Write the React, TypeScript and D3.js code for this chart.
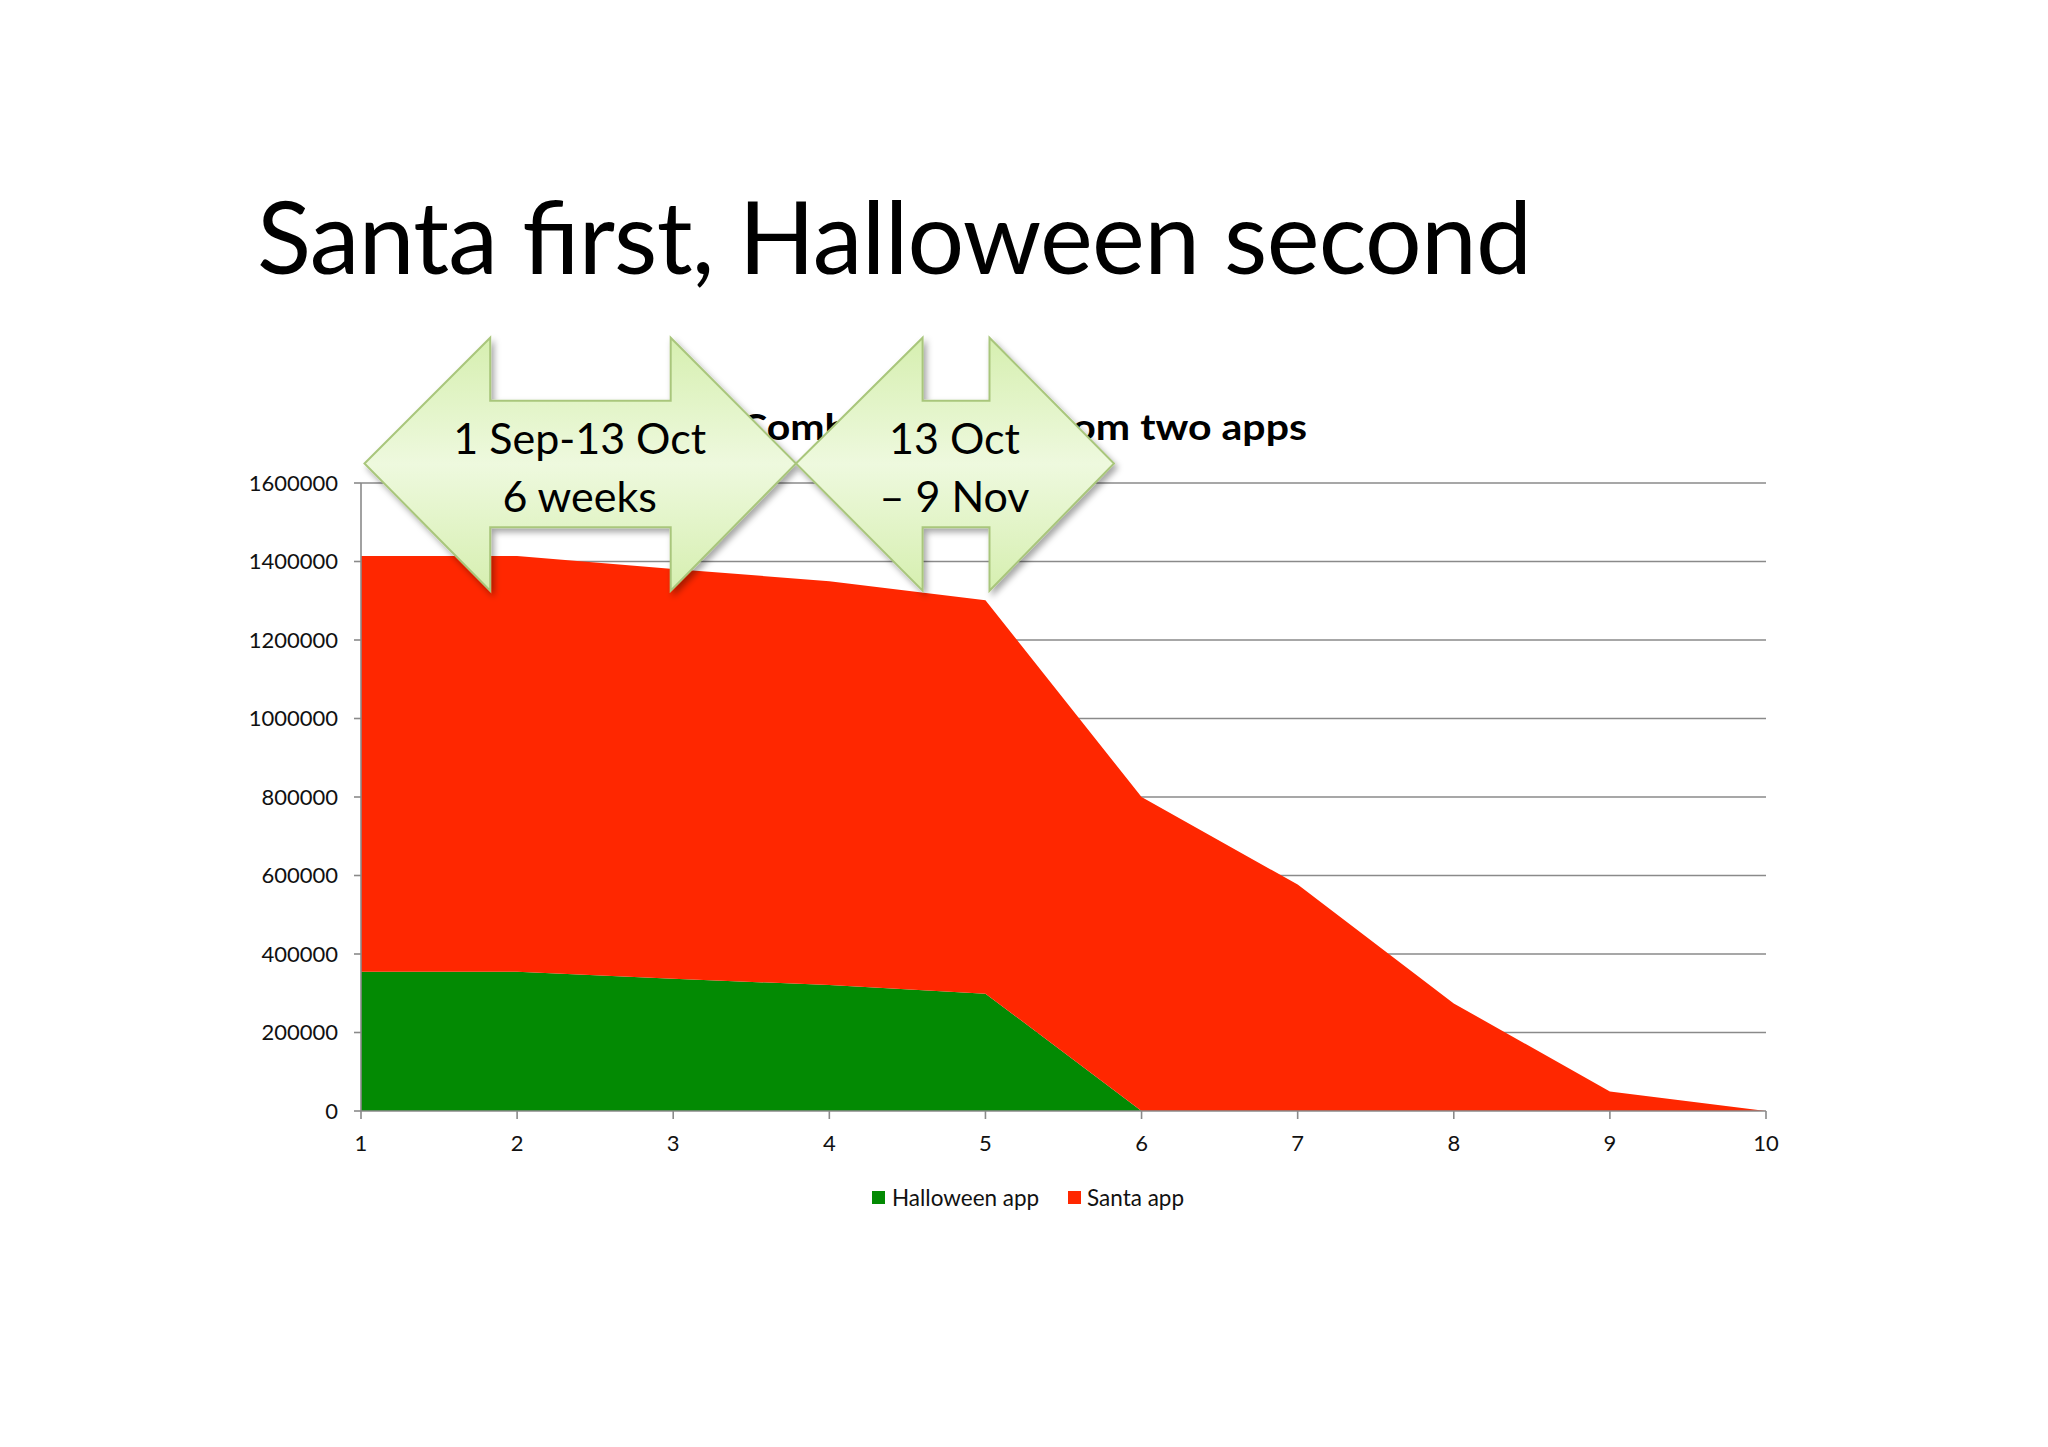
import React from 'react';
import * as d3 from 'd3';

// ---- data ----
const weeks = [1, 2, 3, 4, 5, 6, 7, 8, 9, 10];
const halloweenApp = [355000, 355000, 337000, 321000, 299000, 0, 0, 0, 0, 0];
const santaApp = [1059000, 1059000, 1044000, 1029000, 1002000, 800000, 577000, 274000, 50000, 0];
const seriesNames = ['Halloween app', 'Santa app'];
const seriesColors = ['#038a03', '#ff2700'];
const yTicks = [0, 200000, 400000, 600000, 800000, 1000000, 1200000, 1400000, 1600000];
const slideTitle = 'Santa first, Halloween second';
const chartTitle = 'Combined users from two apps';
const arrowLabels = [
  ['1 Sep-13 Oct', '6 weeks'],
  ['13 Oct', '\u2013 9 Nov'],
];

const FONT = 'Lato, "Open Sans", sans-serif';

export default function App() {
  const W = 2048;
  const H = 1447;
  const x = d3.scaleLinear().domain([1, 10]).range([361, 1766]);
  const y = d3.scaleLinear().domain([0, 1600000]).range([1111, 483]);

  const rows = weeks.map((w, i) => ({ week: w, h: halloweenApp[i], s: santaApp[i] }));
  const stack = d3.stack<any>().keys(['h', 's']);
  const layers = stack(rows);
  const area = d3
    .area<any>()
    .x((d) => x(d.data.week))
    .y0((d) => y(d[0]))
    .y1((d) => y(d[1]));

  // arrow shapes (layout)
  const cy = 463.5;
  const headTop = 337.7;
  const headBot = 590.7;
  const shaftTop = 400.7;
  const shaftBot = 527.3;
  const arrows = [
    { l: 364.5, sl: 490.2, sr: 670.7, r: 796 },
    { l: 796, sl: 922.6, sr: 989.5, r: 1114 },
  ];
  const arrowPath = (a: any) => {
    const p = d3.path();
    p.moveTo(a.l, cy);
    p.lineTo(a.sl, headTop);
    p.lineTo(a.sl, shaftTop);
    p.lineTo(a.sr, shaftTop);
    p.lineTo(a.sr, headTop);
    p.lineTo(a.r, cy);
    p.lineTo(a.sr, headBot);
    p.lineTo(a.sr, shaftBot);
    p.lineTo(a.sl, shaftBot);
    p.lineTo(a.sl, headBot);
    p.closePath();
    return p.toString();
  };

  const gridColor = '#8a8a8a';

  return (
    <svg
      width={W}
      height={H}
      viewBox={`0 0 ${W} ${H}`}
      style={{ position: 'absolute', left: 0, top: 0, background: '#fff' }}
    >
      <defs>
        <linearGradient id="arrowGrad" x1="0" y1="0" x2="0" y2="1">
          <stop offset="0%" stopColor="#d6efb0" />
          <stop offset="50%" stopColor="#eef9de" />
          <stop offset="100%" stopColor="#d6efb0" />
        </linearGradient>
        <filter id="shadow" x="-20%" y="-20%" width="140%" height="140%">
          <feDropShadow dx="3" dy="4" stdDeviation="3" floodColor="#000" floodOpacity="0.35" />
        </filter>
      </defs>
      <rect x={0} y={0} width={W} height={H} fill="#fff" />

      {/* slide title */}
      <text x={257} y={274} fontFamily={FONT} fontSize={100} fill="#000" textLength={1275} lengthAdjust="spacing">
        {slideTitle}
      </text>

      {/* chart title (partly hidden behind the arrows, as in the slide) */}
      <text
        x={740}
        y={440}
        fontFamily={FONT}
        fontWeight="bold"
        fontSize={37}
        fill="#000"
        textLength={567}
        lengthAdjust="spacingAndGlyphs"
      >
        {chartTitle}
      </text>

      {/* gridlines */}
      {yTicks
        .filter((t) => t > 0)
        .map((t) => (
          <line key={t} x1={x(1)} x2={x(10)} y1={y(t)} y2={y(t)} stroke={gridColor} strokeWidth={1.6} />
        ))}

      {/* areas */}
      {layers.map((layer, i) => (
        <path key={i} d={area(layer) as string} fill={seriesColors[i]} />
      ))}

      {/* axes */}
      <line x1={x(1)} x2={x(1)} y1={y(0)} y2={y(1600000)} stroke={gridColor} strokeWidth={1.6} />
      <line x1={x(1)} x2={x(10)} y1={y(0)} y2={y(0)} stroke={gridColor} strokeWidth={1.6} />
      {yTicks.map((t) => (
        <g key={t}>
          <line x1={x(1) - 7} x2={x(1)} y1={y(t)} y2={y(t)} stroke={gridColor} strokeWidth={1.6} />
          <text
            x={338}
            y={y(t)}
            dy="0.35em"
            textAnchor="end"
            fontFamily={FONT}
            fontSize={22}
            fill="#111"
          >
            {t}
          </text>
        </g>
      ))}
      {weeks.map((w) => (
        <g key={w}>
          <line x1={x(w)} x2={x(w)} y1={y(0)} y2={y(0) + 8} stroke={gridColor} strokeWidth={1.6} />
          <text x={x(w)} y={1151} textAnchor="middle" fontFamily={FONT} fontSize={22} fill="#111">
            {w}
          </text>
        </g>
      ))}

      {/* legend */}
      {[
        { sx: 872, tx: 892 },
        { sx: 1068, tx: 1087 },
      ].map((p, i) => (
        <g key={i}>
          <rect x={p.sx} y={1191} width={13} height={13} fill={seriesColors[i]} />
          <text x={p.tx} y={1206} fontFamily={FONT} fontSize={22.5} fill="#111">
            {seriesNames[i]}
          </text>
        </g>
      ))}

      {/* arrows */}
      {arrows.map((a, i) => {
        const cx = (a.l + a.r) / 2 - 0.5;
        return (
          <g key={i}>
            <path d={arrowPath(a)} fill="url(#arrowGrad)" stroke="#a9c67c" strokeWidth={2} filter="url(#shadow)" />
            <text x={cx} y={454} textAnchor="middle" fontFamily={FONT} fontSize={43} fill="#000">
              {arrowLabels[i][0]}
            </text>
            <text x={cx} y={512} textAnchor="middle" fontFamily={FONT} fontSize={43} fill="#000">
              {arrowLabels[i][1]}
            </text>
          </g>
        );
      })}
    </svg>
  );
}
